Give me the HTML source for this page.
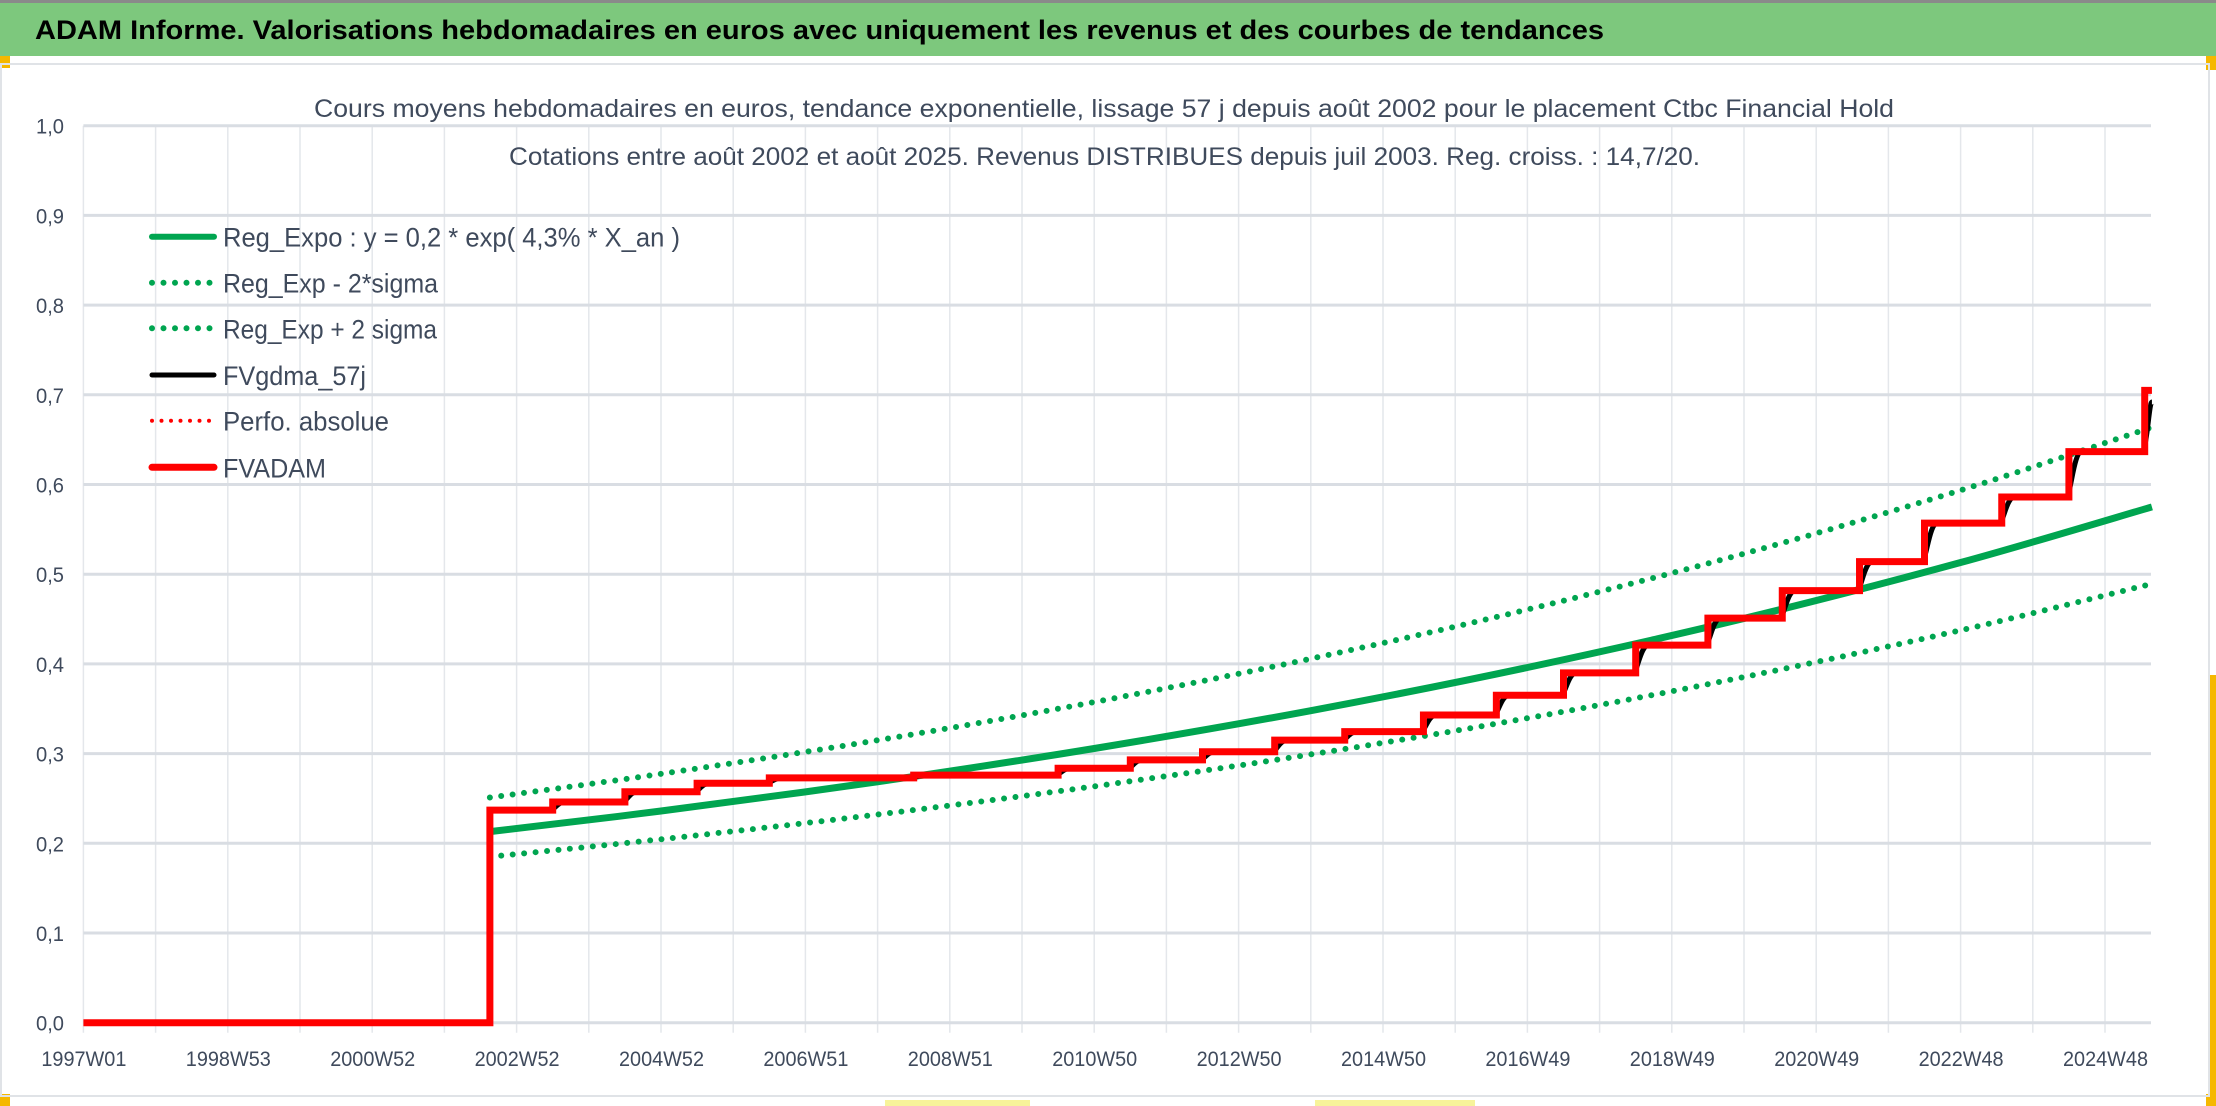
<!DOCTYPE html>
<html><head><meta charset="utf-8">
<style>
html,body{margin:0;padding:0;background:#fff;}
svg{display:block;font-family:"Liberation Sans",sans-serif;}
</style></head>
<body>
<svg id="chart" width="2216" height="1106" viewBox="0 0 2216 1106">
  <rect x="0" y="0" width="2216" height="1106" fill="#ffffff"/>
  <rect x="0" y="0" width="2216" height="56" fill="#7dc87d"/>
  <rect x="0" y="0" width="2216" height="3" fill="#8a8a8a"/>
  <text x="35" y="39" font-size="27" font-weight="bold" fill="#000" textLength="1569" lengthAdjust="spacingAndGlyphs">ADAM Informe. Valorisations hebdomadaires en euros avec uniquement les revenus et des courbes de tendances</text>
  <rect x="0" y="56" width="10" height="12" fill="#f5b800"/>
  <rect x="2206" y="56" width="10" height="14" fill="#f5b800"/>
  <rect x="2210" y="675" width="6" height="420" fill="#f5b800"/>
  <rect x="0" y="1094" width="10" height="12" fill="#f5b800"/>
  <rect x="2206" y="1094" width="10" height="12" fill="#f5b800"/>
  <rect x="885" y="1100" width="145" height="6" fill="#f7f39a"/>
  <rect x="1315" y="1100" width="160" height="6" fill="#f7f39a"/>
  <rect x="1" y="64" width="2208" height="1032" fill="none" stroke="#e0e3e7" stroke-width="2"/>
  <g id="grid"></g>
  <g id="axes"></g>
  <g id="series"></g>
  <text x="314" y="117" font-size="25" fill="#3f4a5c" textLength="1580" lengthAdjust="spacingAndGlyphs">Cours moyens hebdomadaires en euros, tendance exponentielle, lissage 57 j depuis août 2002 pour le placement Ctbc Financial Hold</text>
  <text x="509" y="165" font-size="25" fill="#3f4a5c" textLength="1191" lengthAdjust="spacingAndGlyphs">Cotations entre août 2002 et août 2025. Revenus DISTRIBUES depuis juil 2003. Reg. croiss. : 14,7/20.</text>
  <g id="legend"></g>
</svg>
<script>
// ---- data ----
const yTicks = [0,0.1,0.2,0.3,0.4,0.5,0.6,0.7,0.8,0.9,1.0];
const yTickLabels = ["0,0","0,1","0,2","0,3","0,4","0,5","0,6","0,7","0,8","0,9","1,0"];
const xTickYears = [1997,1999,2001,2003,2005,2007,2009,2011,2013,2015,2017,2019,2021,2023,2025];
const xTickLabels = ["1997W01","1998W53","2000W52","2002W52","2004W52","2006W51","2008W51","2010W50","2012W50","2014W50","2016W49","2018W49","2020W49","2022W48","2024W48"];
// FVADAM step series: step years and level after each step
const stepYears = [2002.63,2003.5,2004.5,2005.5,2006.5,2008.5,2010.5,2011.5,2012.5,2013.5,2014.47,2015.56,2016.57,2017.5,2018.5,2019.5,2020.53,2021.6,2022.5,2023.57,2024.5,2025.55];
const stepValues = [0.237,0.246,0.2575,0.267,0.273,0.276,0.2836,0.293,0.302,0.315,0.3245,0.343,0.365,0.390,0.421,0.451,0.4817,0.514,0.557,0.586,0.6366,0.705];
const startYear = 1997.0;
const endYear = 2025.65;
const blackEndValue = 0.692;
// Trend curves sampled
const trendYears = [2002.63,2005,2008,2011,2014,2017,2020,2023,2025.65];
const regExpo = [0.213,0.236,0.2686,0.3057,0.3479,0.396,0.4507,0.513,0.575];
const regUpper = [0.251,0.2774,0.3149,0.3575,0.4058,0.4606,0.5229,0.5936,0.6638];
const regLower = [0.185,0.2045,0.2321,0.2635,0.2991,0.3395,0.3854,0.4375,0.4893];

// ---- axes ----
const X0=83.4, PXY=72.2, Y0=1022.7, PXV=897;
const xs = t => X0 + (t - 1997) * PXY;
const ys = v => Y0 - v * PXV;
const NS='http://www.w3.org/2000/svg';
function mk(tag, parent, attrs){const e=document.createElementNS(NS,tag);for(const k in attrs)e.setAttribute(k,attrs[k]);parent.appendChild(e);return e;}
const grid=document.getElementById('grid'), axes=document.getElementById('axes'), ser=document.getElementById('series'), leg=document.getElementById('legend');

for(let yr=1997; yr<=2025; yr++){
  const l=mk('line',grid,{x1:xs(yr),x2:xs(yr),y1:ys(1),y2:ys(0)+10,stroke:'#e4e7eb','stroke-width':1.5});
  
  
}
yTicks.forEach((v,i)=>{
  const l=mk('line',grid,{x1:X0,x2:2151,y1:ys(v),y2:ys(v),stroke:'#d9dde3','stroke-width':3});
  
  
  const t=mk('text',axes,{x:64,y:ys(v)+8,'font-size':21,fill:'#3f4a5c','text-anchor':'end',textLength:28,lengthAdjust:'spacingAndGlyphs'});
  t.textContent=yTickLabels[i];
  
  
});
xTickYears.forEach((yr,i)=>{
  const t=mk('text',axes,{x:xs(yr)-42,y:1066,'font-size':21,fill:'#3f4a5c',textLength:85,lengthAdjust:'spacingAndGlyphs'});
  t.textContent=xTickLabels[i];
  
  
});

// ---- series ----
function smoothPath(xsA, vals){
  const p=xsA.map((t,i)=>[xs(t),ys(vals[i])]);
  let d='M'+p[0][0]+','+p[0][1];
  for(let i=0;i<p.length-1;i++){
    const p0=p[i-1]||p[i], p1=p[i], p2=p[i+1], p3=p[i+2]||p2;
    const c1=[p1[0]+(p2[0]-p0[0])/6,p1[1]+(p2[1]-p0[1])/6];
    const c2=[p2[0]-(p3[0]-p1[0])/6,p2[1]-(p3[1]-p1[1])/6];
    d+=' C'+c1+' '+c2+' '+p2;
  }
  return d;
}
const gUp=mk('path',ser,{d:smoothPath(trendYears,regUpper),fill:'none',stroke:'#00a550','stroke-width':6,'stroke-linecap':'round','stroke-dasharray':'0 11.5'});


const gLo=mk('path',ser,{d:smoothPath(trendYears,regLower),fill:'none',stroke:'#00a550','stroke-width':6,'stroke-linecap':'round','stroke-dasharray':'0 11.5'});


const gMain=mk('path',ser,{d:smoothPath(trendYears,regExpo),fill:'none',stroke:'#00a550','stroke-width':7});



// black smoothed line (ramped steps)
let bd='M'+xs(stepYears[0])+','+ys(stepValues[0]);
for(let i=1;i<stepYears.length;i++){
  const last = i===stepYears.length-1;
  const target = last ? blackEndValue : stepValues[i];
  const tEnd = last ? endYear : Math.min(stepYears[i]+0.18, stepYears[i+1]);
  bd+=' L'+xs(stepYears[i]-0.04)+','+ys(stepValues[i-1]);
  bd+=' C'+xs(stepYears[i]+0.03)+','+ys(stepValues[i-1])+' '+xs(stepYears[i]+0.06)+','+ys(target)+' '+xs(tEnd)+','+ys(target);
}
const blk=mk('path',ser,{d:bd,fill:'none',stroke:'#000','stroke-width':5});



// red step line
let rd='M'+xs(startYear)+','+ys(0)+' L'+xs(stepYears[0])+','+ys(0);
for(let i=0;i<stepYears.length;i++){
  rd+=' L'+xs(stepYears[i])+','+ys(stepValues[i]);
  const nx = i<stepYears.length-1 ? stepYears[i+1] : endYear;
  rd+=' L'+xs(nx)+','+ys(stepValues[i]);
}
const red=mk('path',ser,{d:rd,fill:'none',stroke:'#ff0000','stroke-width':7,'stroke-linejoin':'miter'});



// ---- legend ----
const legRows=[
  {y:236.7,label:'Reg_Expo : y = 0,2 * exp( 4,3% *  X_an )',w:457,color:'#00a550',dash:null,sw:6,name:'legend-reg-expo'},
  {y:282.7,label:'Reg_Exp - 2*sigma',w:215,color:'#00a550',dash:'0 11.5',sw:6,name:'legend-reg-exp-minus'},
  {y:328.3,label:'Reg_Exp + 2 sigma',w:214,color:'#00a550',dash:'0 11.5',sw:6,name:'legend-reg-exp-plus'},
  {y:375,label:'FVgdma_57j',w:143,color:'#000',dash:null,sw:5,name:'legend-fvgdma'},
  {y:420.7,label:'Perfo. absolue',w:166,color:'#ff0000',dash:'0 9.5',sw:4,name:'legend-perfo-absolue'},
  {y:467.3,label:'FVADAM',w:103,color:'#ff0000',dash:null,sw:7,name:'legend-fvadam'}
];
legRows.forEach(r=>{
  const g=mk('g',leg,{});
  
  
  const a={x1:152,x2:214,y1:r.y,y2:r.y,stroke:r.color,'stroke-width':r.sw,'stroke-linecap':'round'};
  if(r.dash)a['stroke-dasharray']=r.dash;
  mk('line',g,a);
  const t=mk('text',g,{x:223,y:r.y+10,'font-size':27,fill:'#3f4a5c',textLength:r.w,lengthAdjust:'spacingAndGlyphs'});
  t.textContent=r.label;
});
</script>
</body></html>
